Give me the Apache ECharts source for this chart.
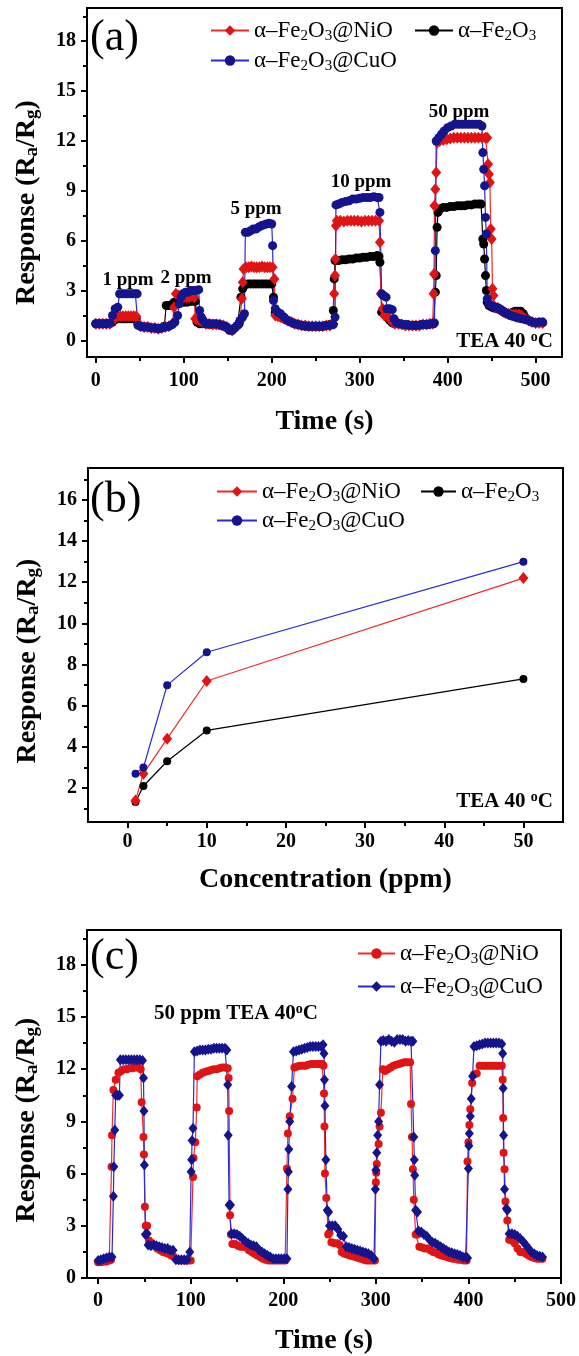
<!DOCTYPE html>
<html>
<head>
<meta charset="utf-8">
<script src="https://cdn.jsdelivr.net/npm/echarts@6.0.0/dist/echarts.min.js"></script>
<style>
html, body { margin: 0; padding: 0; background: #fff; }
#chart { width: 579px; height: 1356px; }
</style>
</head>
<body>
<div id="chart"></div>
<script>
// (a) dynamic response at 1, 2, 5, 10, 50 ppm  [time s, Ra/Rg]
var aNiO = [[0,1.0],[4,1.0],[8,1.0],[12,1.0],[16,1.0],[19,1.2],[22,1.35],[25,1.45],[28,1.45],[31,1.45],[34,1.45],[37,1.45],[40,1.45],[43,1.45],[46,1.45],[48,1.0],[51,0.85],[55,0.8],[59,0.8],[63,0.75],[67,0.75],[71,0.7],[75,0.75],[79,0.8],[83,0.85],[87,1.0],[89,2.0],[91,2.8],[94,2.7],[97,2.6],[100,2.6],[103,2.6],[106,2.6],[109,2.65],[112,2.6],[113,1.3],[115,1.25],[118,1.2],[121,1.1],[125,1.0],[129,1.0],[133,0.95],[137,0.95],[141,0.95],[145,0.9],[149,0.8],[152,0.65],[155,0.6],[158,0.75],[161,0.9],[164,1.2],[166,2.5],[167,3.5],[168,4.3],[171,4.4],[174,4.4],[177,4.45],[180,4.4],[183,4.4],[186,4.4],[189,4.45],[192,4.4],[195,4.4],[198,4.4],[201,4.4],[203,3.7],[204,1.5],[207,1.45],[210,1.4],[214,1.3],[218,1.2],[222,1.1],[226,1.0],[230,0.95],[234,0.9],[238,0.9],[242,0.85],[246,0.85],[250,0.85],[254,0.85],[258,0.85],[262,0.9],[266,0.9],[270,1.0],[271,2.8],[272,3.9],[272.5,4.9],[273,6.9],[274,7.2],[278,7.2],[282,7.15],[286,7.2],[290,7.2],[294,7.2],[298,7.2],[302,7.15],[306,7.2],[310,7.2],[314,7.2],[318,7.2],[322,7.2],[323,5.9],[324,2.8],[326,1.9],[328,1.5],[331,1.5],[334,1.3],[337,1.1],[340,1.0],[344,1.0],[348,0.95],[352,0.9],[356,0.9],[360,0.9],[364,0.9],[368,0.9],[372,0.95],[376,0.95],[380,1.0],[383,1.0],[384,2.8],[384.5,4.0],[385,8.1],[386,9.1],[387,10.1],[388,11.9],[391,12.0],[395,12.05],[399,12.1],[403,12.15],[407,12.2],[411,12.2],[415,12.2],[419,12.2],[423,12.2],[427,12.2],[431,12.2],[435,12.2],[439,12.2],[443,12.2],[445,12.2],[446,10.6],[447,10.0],[448,9.5],[449,6.7],[450,6.1],[451,3.1],[452,2.7],[454,2.0],[457,1.95],[460,1.85],[463,1.75],[466,1.65],[469,1.6],[472,1.55],[475,1.55],[478,1.55],[481,1.55],[484,1.5],[488,1.3],[492,1.2],[496,1.1],[500,1.05],[504,1.05],[508,1.05]];
var aFe = [[0,1.0],[4,1.0],[8,1.0],[12,1.0],[16,1.0],[19,1.1],[22,1.25],[25,1.3],[28,1.3],[31,1.3],[34,1.3],[37,1.3],[40,1.3],[43,1.3],[46,1.3],[48,0.95],[51,0.85],[55,0.8],[59,0.8],[63,0.75],[67,0.75],[71,0.7],[75,0.75],[78,0.85],[80,2.1],[83,2.1],[86,2.15],[89,2.3],[92,2.3],[95,2.3],[98,2.3],[101,2.3],[104,2.3],[107,2.35],[110,2.35],[113,2.35],[115,1.1],[118,1.0],[121,1.0],[125,1.0],[129,0.95],[133,0.95],[137,0.95],[141,0.9],[145,0.85],[149,0.75],[152,0.6],[155,0.6],[158,0.75],[161,0.9],[163,1.0],[165,2.6],[167,3.1],[170,3.35],[173,3.4],[176,3.4],[179,3.4],[182,3.4],[185,3.4],[188,3.4],[191,3.4],[194,3.4],[197,3.4],[200,3.4],[202,2.6],[204,1.7],[207,1.5],[210,1.4],[214,1.3],[218,1.2],[222,1.1],[226,1.0],[230,0.95],[234,0.9],[238,0.9],[242,0.85],[246,0.85],[250,0.85],[254,0.85],[258,0.85],[262,0.9],[266,0.95],[269,1.0],[270,1.8],[271,3.7],[272,4.8],[276,4.8],[280,4.85],[284,4.85],[288,4.9],[292,4.9],[296,4.95],[300,4.95],[304,5.0],[308,5.0],[312,5.05],[316,5.05],[320,5.1],[322,5.05],[323,4.7],[325,1.7],[328,1.6],[331,1.4],[334,1.2],[337,1.05],[340,1.0],[344,1.0],[348,0.95],[352,0.9],[356,0.9],[360,0.9],[364,0.9],[368,0.9],[372,0.95],[376,0.95],[380,1.0],[384,1.0],[386,2.9],[387,3.9],[388,6.8],[389,7.7],[391,7.9],[395,8.0],[399,8.0],[403,8.05],[407,8.05],[411,8.1],[415,8.1],[419,8.1],[423,8.15],[427,8.15],[431,8.2],[435,8.2],[438,8.2],[440,6.1],[441,5.8],[442,4.9],[443,3.9],[444,3.0],[445,2.3],[447,2.1],[450,2.0],[453,1.95],[456,1.9],[459,1.85],[462,1.75],[465,1.65],[468,1.6],[471,1.55],[474,1.7],[477,1.75],[480,1.75],[483,1.75],[486,1.6],[489,1.35],[492,1.2],[496,1.1],[500,1.05],[504,1.05],[508,1.05]];
var aCuO = [[0,1.0],[4,1.0],[8,1.0],[12,1.0],[16,1.05],[19,1.5],[22,1.9],[25,2.0],[27,2.8],[30,2.8],[33,2.8],[36,2.8],[39,2.8],[42,2.8],[45,2.8],[47,2.8],[48,0.9],[51,0.85],[55,0.8],[59,0.8],[63,0.75],[67,0.75],[71,0.7],[75,0.75],[79,0.8],[83,0.85],[87,0.95],[90,1.1],[93,1.5],[95,2.2],[97,2.6],[99,2.8],[102,2.9],[105,2.9],[108,3.0],[111,3.0],[114,3.0],[117,3.05],[118,1.8],[120,1.4],[122,1.2],[125,1.0],[129,1.0],[133,1.0],[137,1.0],[141,0.95],[145,0.9],[149,0.8],[152,0.65],[155,0.6],[158,0.75],[161,0.9],[164,1.2],[167,1.4],[169,1.6],[170,6.5],[173,6.5],[176,6.6],[179,6.7],[182,6.7],[185,6.8],[188,6.9],[191,6.95],[194,7.0],[197,7.05],[200,7.0],[201,5.7],[202,2.4],[204,1.9],[207,1.7],[210,1.6],[214,1.4],[218,1.2],[222,1.1],[226,1.0],[230,0.95],[234,0.9],[238,0.85],[242,0.85],[246,0.85],[250,0.85],[254,0.85],[258,0.85],[262,0.9],[266,0.9],[270,0.95],[272,1.4],[273,8.15],[276,8.2],[280,8.3],[284,8.35],[288,8.4],[292,8.5],[296,8.5],[300,8.55],[304,8.6],[308,8.6],[312,8.6],[316,8.65],[320,8.6],[322,8.6],[323,7.7],[325,2.8],[327,2.7],[330,2.6],[331,1.9],[334,1.9],[337,1.85],[339,1.3],[342,1.05],[346,1.0],[350,0.95],[354,0.95],[358,0.9],[362,0.9],[366,0.9],[370,0.95],[374,0.95],[378,0.95],[382,1.0],[385,1.05],[386,5.4],[387,12.0],[390,12.2],[393,12.4],[396,12.6],[400,12.8],[404,12.9],[408,13.0],[412,13.0],[416,13.0],[420,13.0],[424,13.0],[428,13.0],[432,13.0],[436,13.0],[439,12.9],[440,11.3],[441,10.3],[442,9.3],[443,7.4],[444,6.4],[445,2.5],[447,2.2],[450,2.1],[453,2.0],[456,2.0],[459,1.9],[462,1.8],[465,1.7],[468,1.6],[471,1.5],[474,1.45],[477,1.4],[480,1.35],[484,1.3],[488,1.25],[492,1.2],[496,1.1],[500,1.05],[504,1.1],[508,1.1]];

// (b) response vs concentration
var bConc = [1, 2, 5, 10, 50];
var bNiO = [1.4, 2.7, 4.4, 7.2, 12.2];
var bFe = [1.32, 2.1, 3.3, 4.8, 7.3];
var bCuO = [2.7, 3.0, 7.0, 8.6, 13.0];

// (c) five cycles at 50 ppm  [time s, Ra/Rg]
var cNiO = [[0,0.9],[3,0.9],[6,0.95],[9,0.95],[12,1.0],[14,1.05],[14.5,6.4],[15,8.2],[16.5,10.8],[19,11.4],[22,11.8],[25,11.9],[28,12.0],[31,12.0],[34,12.05],[37,12.05],[40,12.1],[43,12.1],[46,12.0],[47,10.1],[49,8.1],[49.5,7.1],[50.5,4.1],[51.5,3.0],[53,3.0],[55,2.15],[58,2.0],[61,1.9],[64,1.7],[67,1.6],[70,1.5],[73,1.45],[76,1.4],[79,1.3],[82,1.2],[85,1.05],[88,1.0],[91,1.0],[94,1.0],[97,1.0],[100,1.0],[102.5,5.8],[103,6.9],[105,7.8],[106.5,9.8],[107,11.6],[110,11.7],[113,11.8],[116,11.85],[119,11.9],[122,11.95],[125,12.0],[128,12.0],[131,12.05],[134,12.1],[137,12.1],[140,12.05],[141,11.5],[141.5,9.6],[142.5,3.6],[143.5,2.5],[145,1.95],[148,1.95],[151,1.85],[154,1.8],[157,1.8],[160,1.75],[163,1.6],[166,1.5],[169,1.4],[172,1.3],[175,1.2],[178,1.1],[181,1.05],[184,1.0],[187,1.0],[190,1.0],[193,1.0],[196,1.0],[199,1.0],[202,1.0],[204,6.3],[205,8.3],[207,9.3],[210,10.3],[212,12.1],[215,12.15],[218,12.2],[221,12.2],[224,12.2],[227,12.25],[230,12.3],[233,12.3],[236,12.3],[239,12.3],[242,12.3],[243.5,12.2],[244,10.6],[244.5,8.7],[245,6.0],[246.5,4.6],[248.5,2.5],[250,2.6],[252,2.05],[255,2.0],[258,2.0],[261,1.9],[263,1.5],[266,1.4],[269,1.35],[272,1.3],[275,1.25],[278,1.2],[281,1.15],[284,1.1],[287,1.05],[290,1.0],[293,1.0],[296,1.0],[299,1.0],[300,5.5],[300.5,6.05],[301,6.55],[303,7.7],[304,8.7],[305.5,9.5],[307.5,12.0],[310,11.9],[313,12.0],[316,12.1],[319,12.2],[322,12.25],[325,12.3],[328,12.35],[331,12.4],[334,12.4],[337,12.4],[338,10.0],[339,8.1],[340,6.25],[341,4.5],[343,2.5],[345,2.5],[347,1.8],[350,1.75],[353,1.7],[356,1.7],[359,1.6],[362,1.5],[365,1.45],[368,1.35],[371,1.3],[374,1.25],[377,1.2],[380,1.15],[383,1.1],[386,1.1],[389,1.05],[392,1.05],[395,1.0],[398,1.0],[399,6.7],[400,7.8],[401,8.8],[402,9.7],[404,11.2],[406,11.7],[409,11.75],[412,12.2],[415,12.2],[418,12.2],[421,12.2],[424,12.2],[427,12.2],[430,12.2],[433,12.2],[436,12.2],[437,11.4],[437.5,9.2],[438,7.2],[439,6.25],[440,4.4],[442,3.3],[444,2.2],[447,2.15],[450,2.0],[453,1.7],[456,1.5],[459,1.5],[462,1.4],[465,1.3],[468,1.2],[471,1.15],[474,1.1],[477,1.1],[480,1.1]];
var cCuO = [[0,1.0],[3,1.05],[6,1.1],[9,1.15],[12,1.2],[15,1.2],[16.5,4.7],[17,6.4],[18,8.5],[19,10.5],[21,10.5],[23,10.5],[24,12.55],[27,12.55],[30,12.55],[33,12.55],[36,12.55],[39,12.55],[42,12.55],[45,12.55],[48,12.5],[49,11.5],[49.5,9.6],[50,6.5],[51,2.5],[53,2.55],[54,1.9],[57,1.85],[60,1.9],[63,1.85],[66,1.8],[69,1.75],[72,1.7],[75,1.7],[78,1.6],[81,1.6],[84,1.05],[87,1.05],[90,1.05],[93,1.05],[96,1.05],[99,1.5],[100.5,6.1],[101,6.8],[101.5,7.9],[102.5,8.6],[104,13.0],[107,13.05],[110,13.1],[113,13.1],[116,13.1],[119,13.15],[122,13.15],[125,13.2],[128,13.2],[131,13.2],[134,13.2],[137,13.2],[139,13.1],[140,11.1],[140.5,8.2],[141.5,4.2],[143,4.2],[144,2.55],[147,2.55],[150,2.5],[153,2.4],[156,2.25],[159,2.1],[162,2.0],[165,1.9],[168,1.85],[171,1.8],[174,1.6],[177,1.5],[180,1.4],[183,1.3],[186,1.2],[189,1.1],[192,1.1],[195,1.1],[198,1.1],[201,1.1],[204,1.1],[205,5.1],[205.5,6.1],[206,7.4],[207,9.0],[209,11.0],[211,13.0],[214,13.05],[217,13.1],[220,13.15],[223,13.2],[226,13.25],[229,13.3],[232,13.3],[235,13.3],[238,13.3],[241,13.3],[243,13.4],[244,12.9],[244.5,11.4],[245,9.9],[246,6.8],[247.5,3.9],[249,3.8],[250,3.0],[253,3.0],[256,3.0],[259,2.8],[262,2.45],[265,2.4],[268,1.8],[271,1.75],[274,1.7],[277,1.65],[280,1.6],[283,1.55],[286,1.5],[289,1.45],[292,1.4],[295,1.3],[298,1.1],[299.5,5.1],[300,6.2],[301,7.2],[302,8.2],[303,9.0],[304,11.1],[305.5,13.6],[308,13.65],[311,13.6],[314,13.7],[317,13.6],[320,13.55],[323,13.7],[326,13.7],[329,13.7],[332,13.6],[335,13.65],[338,13.6],[340,13.6],[341,8.1],[341.5,6.8],[342,5.9],[343,3.9],[345,3.8],[346,2.7],[349,2.65],[352,2.5],[355,2.4],[358,2.2],[361,2.05],[364,2.0],[367,1.9],[370,1.8],[373,1.7],[376,1.6],[379,1.5],[382,1.45],[385,1.4],[388,1.35],[391,1.3],[394,1.2],[397,1.2],[399,1.15],[400,6.3],[400.5,7.6],[401,8.3],[402,9.3],[403,10.3],[404.5,11.6],[406,13.3],[409,13.35],[412,13.4],[415,13.45],[418,13.5],[421,13.5],[424,13.5],[427,13.5],[430,13.5],[433,13.5],[436,13.45],[437,12.9],[437.5,10.9],[438,8.2],[439,5.1],[441,4.0],[442,3.9],[444,2.55],[447,2.55],[450,2.5],[453,2.4],[456,2.25],[459,2.1],[462,1.9],[465,1.7],[468,1.5],[471,1.4],[474,1.3],[477,1.25],[480,1.2]];

// tick labels and minor ticks
var timeTicksA = [0, 100, 200, 300, 400, 500];
var timeMinorA = [50, 150, 250, 350, 450];
var respTicksA = [0, 3, 6, 9, 12, 15, 18];
var respMinorA = [1.5, 4.5, 7.5, 10.5, 13.5, 16.5, 19.5];
var concTicks = [0, 10, 20, 30, 40, 50];
var concMinor = [5, 15, 25, 35, 45];
var respTicksB = [2, 4, 6, 8, 10, 12, 14, 16];
var respMinorB = [1, 3, 5, 7, 9, 11, 13, 15, 17];
var timeTicksC = [0, 100, 200, 300, 400, 500];
var timeMinorC = [50, 150, 250, 350, 450];
var respTicksC = [0, 3, 6, 9, 12, 15, 18];
var respMinorC = [1.5, 4.5, 7.5, 10.5, 13.5, 16.5, 19.5];

var FONT = 'Liberation Serif';
var RED = '#e01414', RED_LINE = '#ee2a2a';
var BLUE = '#14148c', BLUE_LINE = '#2a2ad4';
var BLACK = '#000';

var chart = echarts.init(document.getElementById('chart'));

var respName = '{t|Response (R}{s|a}{t|/R}{s|g}{t|)}';

function mainAxis(dim, grid, min, max, labels, margin, name, gap, pad) {
  var ax = {
    type: 'value', gridIndex: grid, min: min, max: max,
    position: dim === 'x' ? 'bottom' : 'left',
    axisLine: { show: true, onZero: false, lineStyle: { color: '#000', width: 2 } },
    axisTick: { show: true, length: 6, customValues: labels, lineStyle: { color: '#000', width: 2 } },
    axisLabel: { customValues: labels, margin: margin, color: '#000', fontFamily: FONT, fontWeight: 'bold', fontSize: 20 },
    splitLine: { show: false },
    name: name, nameLocation: 'middle', nameGap: gap,
    nameTextStyle: {
      color: '#000', fontFamily: FONT, fontWeight: 'bold', fontSize: 28, padding: pad,
      rich: {
        t: { fontFamily: FONT, fontWeight: 'bold', fontSize: 28, lineHeight: 30, color: '#000' },
        s: { fontFamily: FONT, fontWeight: 'bold', fontSize: 19, lineHeight: 18, verticalAlign: 'bottom', color: '#000' }
      }
    }
  };
  if (dim === 'y') ax.nameRotate = 90;
  return ax;
}

function minorAxis(dim, grid, min, max, minors) {
  return {
    type: 'value', gridIndex: grid, min: min, max: max,
    position: dim === 'x' ? 'bottom' : 'left',
    axisLine: { show: false, onZero: false },
    axisTick: { show: true, length: 4, customValues: minors, lineStyle: { color: '#000', width: 2 } },
    axisLabel: { show: false },
    splitLine: { show: false }
  };
}

function line(name, xi, yi, data, symbol, size, color, lineColor) {
  return {
    name: name, type: 'line', xAxisIndex: xi, yAxisIndex: yi, data: data,
    symbol: symbol, symbolSize: size, showSymbol: true, showAllSymbol: true,
    itemStyle: { color: color },
    lineStyle: { color: lineColor, width: 1.2 },
    emphasis: { disabled: true }
  };
}

function zip(xs, ys) {
  return xs.map(function (x, i) { return [x, ys[i]]; });
}

var legendText = {
  aNiO: '{t|α–Fe}{s|2}{t|O}{s|3}{t|@NiO}',
  aFe: '{t|α–Fe}{s|2}{t|O}{s|3}',
  aCuO: '{t|α–Fe}{s|2}{t|O}{s|3}{t|@CuO}',
  bNiO: '{t|α–Fe}{s|2}{t|O}{s|3}{t|@NiO}',
  bFe: '{t|α–Fe}{s|2}{t|O}{s|3}',
  bCuO: '{t|α–Fe}{s|2}{t|O}{s|3}{t|@CuO}',
  cNiO: '{t|α–Fe}{s|2}{t|O}{s|3}{t|@NiO}',
  cCuO: '{t|α–Fe}{s|2}{t|O}{s|3}{t|@CuO}'
};

function legend(name, left, cy, w) {
  return {
    data: [name], left: left, top: cy - 13, padding: 0,
    itemWidth: w, itemHeight: 13, selectedMode: false,
    formatter: function (n) { return legendText[n]; },
    textStyle: {
      color: '#000', fontFamily: FONT, fontSize: 23,
      rich: {
        t: { fontFamily: FONT, fontSize: 23, lineHeight: 26, color: '#000' },
        s: { fontFamily: FONT, fontSize: 15, lineHeight: 15, verticalAlign: 'bottom', color: '#000' }
      }
    }
  };
}

var teaRich = {
  b: { fontFamily: FONT, fontWeight: 'bold', fontSize: 21, lineHeight: 24, fill: '#000', color: '#000' },
  u: { fontFamily: FONT, fontWeight: 'bold', fontSize: 14, lineHeight: 14, verticalAlign: 'top', fill: '#000', color: '#000' }
};

function label(text, x, y, size, bold, align) {
  return {
    type: 'text', x: x, y: y, silent: true,
    style: {
      text: text, fontFamily: FONT, fontSize: size, fontWeight: bold ? 'bold' : 'normal',
      fill: '#000', align: align || 'center', verticalAlign: 'middle'
    }
  };
}

function richLabel(text, x, y, align) {
  return {
    type: 'text', x: x, y: y, silent: true,
    style: { text: text, rich: teaRich, fontFamily: FONT, fontSize: 21, fontWeight: 'bold', fill: '#000', align: align, verticalAlign: 'middle' }
  };
}

var gridStyle = { show: true, borderColor: '#000', borderWidth: 2, backgroundColor: 'transparent' };

chart.setOption({
  animation: false,
  backgroundColor: '#fff',
  grid: [
    Object.assign({ left: 87, top: 8, width: 475, height: 349 }, gridStyle),
    Object.assign({ left: 88, top: 468, width: 475, height: 354 }, gridStyle),
    Object.assign({ left: 87, top: 930, width: 475, height: 349 }, gridStyle)
  ],
  xAxis: [
    mainAxis('x', 0, -10, 530, timeTicksA, 14, 'Time (s)', 51, 0),
    minorAxis('x', 0, -10, 530, timeMinorA),
    mainAxis('x', 1, -5, 55, concTicks, 10, 'Concentration (ppm)', 44, 0),
    minorAxis('x', 1, -5, 55, concMinor),
    mainAxis('x', 2, -12, 500, timeTicksC, 13, 'Time (s)', 49, 0),
    minorAxis('x', 2, -12, 500, timeMinorC)
  ],
  yAxis: [
    mainAxis('y', 0, -1, 20, respTicksA, 11, respName, 45, [0, 40, 0, 0]),
    minorAxis('y', 0, -1, 20, respMinorA),
    mainAxis('y', 1, 0.35, 17.55, respTicksB, 11, respName, 45, [0, 32, 0, 0]),
    minorAxis('y', 1, 0.35, 17.55, respMinorB),
    mainAxis('y', 2, 0, 20, respTicksC, 11, respName, 45, [0, 32, 0, 0]),
    minorAxis('y', 2, 0, 20, respMinorC)
  ],
  legend: [
    legend('aNiO', 210, 32, 38),
    legend('aFe', 414, 32, 38),
    legend('aCuO', 210, 62, 38),
    legend('bNiO', 216, 493, 40),
    legend('bFe', 420, 493, 35),
    legend('bCuO', 216, 522, 40),
    legend('cNiO', 357, 955, 37),
    legend('cCuO', 357, 988, 37)
  ],
  graphic: { elements: [
    label('(a)', 90, 38, 44, false, 'left'),
    label('(b)', 90, 500, 44, false, 'left'),
    label('(c)', 90, 957, 44, false, 'left'),
    label('1 ppm', 128, 280, 19, true),
    label('2 ppm', 186, 278, 19, true),
    label('5 ppm', 256, 209, 19, true),
    label('10 ppm', 361, 182, 19, true),
    label('50 ppm', 459, 112, 19, true),
    richLabel('{b|TEA 40 }{u|o}{b|C}', 553, 342, 'right'),
    richLabel('{b|TEA 40 }{u|o}{b|C}', 553, 802, 'right'),
    richLabel('{b|50 ppm TEA 40}{u|o}{b|C}', 154, 1014, 'left')
  ] },
  series: [
    line('aFe', 0, 0, aFe, 'circle', 9, BLACK, BLACK),
    line('aNiO', 0, 0, aNiO, 'diamond', [10, 12], RED, RED_LINE),
    line('aCuO', 0, 0, aCuO, 'circle', 9, BLUE, BLUE_LINE),
    line('bFe', 2, 2, zip(bConc, bFe), 'circle', 8, BLACK, BLACK),
    line('bNiO', 2, 2, zip(bConc, bNiO), 'diamond', [10, 12], RED, RED_LINE),
    line('bCuO', 2, 2, zip(bConc, bCuO), 'circle', 8, BLUE, BLUE_LINE),
    line('cNiO', 4, 4, cNiO, 'circle', 8, RED, RED_LINE),
    line('cCuO', 4, 4, cCuO, 'diamond', [9, 11], BLUE, BLUE_LINE)
  ]
});
</script>
</body>
</html>
